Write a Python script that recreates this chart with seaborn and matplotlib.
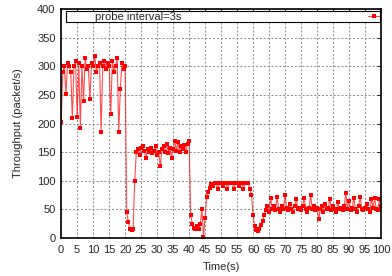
import numpy as np
import pandas as pd
import seaborn as sns
import matplotlib as mpl
from matplotlib import pyplot as plt
from matplotlib.patches import Rectangle

# throughput samples, one every 0.5 s
seg_a = [202, 290, 300, 251, 305, 300, 290, 209, 300, 310, 212, 305, 193, 300, 239, 315, 295, 300, 242, 305,
         300, 318, 290, 300, 305, 186, 300, 310, 295, 305, 300, 216, 310, 290, 300, 315, 186, 260, 305, 295, 300]
seg_b = [45, 28, 15, 14, 15, 100, 150, 155, 145, 158, 160, 152, 140, 155, 150, 158, 148, 152, 160, 145,
         150, 125, 155, 160, 150, 165, 148, 158, 140, 155, 170, 152, 168, 150, 160, 155, 162, 150, 165, 170]
seg_c = [40, 25, 18, 15, 20, 15, 25, 50, 2, 35, 72, 80, 88, 95, 90, 96, 96, 86, 96, 96,
         90, 96, 96, 86, 96, 96, 96, 86, 96, 96, 90, 96, 96, 86, 96, 96, 96, 85, 75, 40]
seg_d = [20, 14, 12, 15, 22, 30, 40, 48, 55, 45, 70, 50, 55, 48, 72, 50, 45, 55, 50, 75,
         52, 48, 60, 50, 45, 55, 68, 50, 52, 48, 55, 70, 50, 45, 52, 75, 50, 55, 48, 52,
         33, 50, 55, 45, 60, 50, 52, 68, 48, 55, 50, 45, 62, 50, 52, 48, 55, 78, 50, 65,
         48, 52, 70, 50, 45, 55, 72, 50, 48, 52, 60, 50, 45, 68, 52, 70, 50, 48, 68, 55]

throughput = seg_a + seg_b + seg_c + seg_d
time_s = np.arange(len(throughput)) * 0.5
df = pd.DataFrame({'Time(s)': time_s, 'Throughput (packet/s)': throughput})

sns.set_style('white')
plt.rcParams['font.family'] = ['Liberation Sans', 'DejaVu Sans']

fig = plt.figure(figsize=(3.92, 2.76), dpi=100)
ax = fig.add_axes([0.156, 0.138, 0.816, 0.829])
sns.lineplot(data=df, x='Time(s)', y='Throughput (packet/s)', ax=ax, color='red',
             lw=0.8, marker='s', markersize=3.5, markeredgewidth=0,
             label='probe interval=3s')
# lighter connecting line, solid markers (like the gnuplot output)
ln = ax.lines[0]
ln.set_color((1, 0, 0, 0.7))
ln.set_markerfacecolor('red')

ax.set_xlim(0, 100)
ax.set_ylim(0, 400)
ax.set_xticks(range(0, 101, 5))
ax.set_yticks(range(0, 401, 50))
ax.tick_params(direction='in', length=3, labelsize=8, top=True, right=True)
ax.tick_params(axis='x', pad=5)
ax.tick_params(axis='y', pad=4)
ax.grid(True, linestyle=(0, (2, 2)), color='#888888', lw=0.7)
for sp in ax.spines.values():
    sp.set_linewidth(1.2)
    sp.set_color('black')
ax.set_xlabel('Time(s)', fontsize=8, labelpad=5)
ax.set_ylabel('Throughput (packet/s)', fontsize=8, labelpad=10)

# gnuplot-like key: text on the left, sample at the right end of a wide box
leg = ax.legend(loc='center right', bbox_to_anchor=(0.994, 0.965), markerfirst=False,
                fontsize=8, frameon=False, borderpad=0, borderaxespad=0,
                handlelength=1.0, handletextpad=16.8)
ax.add_patch(Rectangle((0.016, 0.942), 0.981, 0.050, transform=ax.transAxes,
                       facecolor='white', edgecolor='black', lw=0.8, zorder=4))
leg.set_zorder(5)

fig.savefig('out.png', dpi=100)
